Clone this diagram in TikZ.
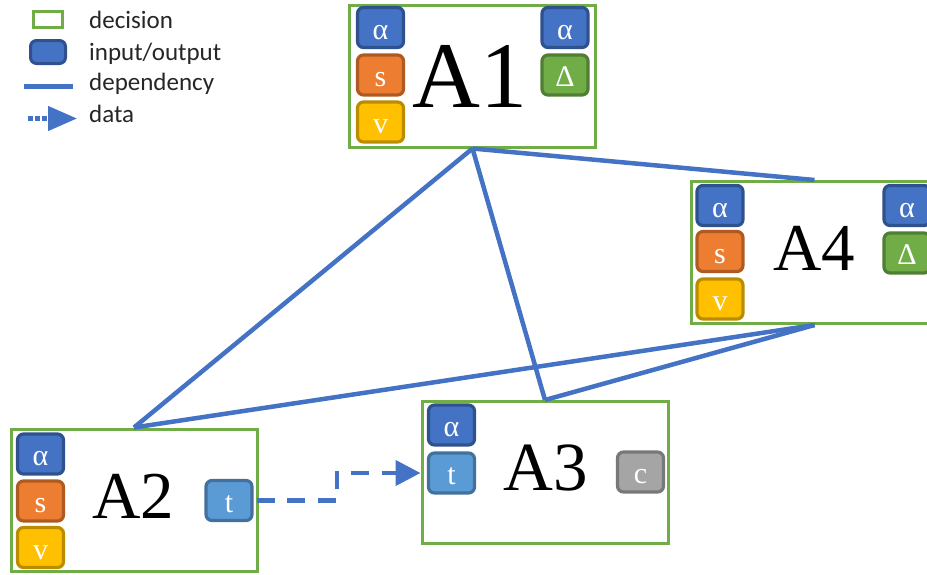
\documentclass[tikz,border=0pt]{standalone}
\usepackage{fontspec}
\setmainfont{Liberation Serif}
\newfontfamily\legendfont{Carlito}
\usetikzlibrary{arrows.meta}

\definecolor{decgreen}{HTML}{70AD47}
\definecolor{iofill}{HTML}{4472C4}
\definecolor{iodraw}{HTML}{2F528F}
\definecolor{orfill}{HTML}{ED7D31}
\definecolor{ordraw}{HTML}{AE5A21}
\definecolor{yefill}{HTML}{FFC000}
\definecolor{yedraw}{HTML}{BC8C00}
\definecolor{grfill}{HTML}{70AD47}
\definecolor{grdraw}{HTML}{507E32}
\definecolor{ltfill}{HTML}{5B9BD5}
\definecolor{ltdraw}{HTML}{41719C}
\definecolor{gyfill}{HTML}{A5A5A5}
\definecolor{gydraw}{HTML}{787878}
\definecolor{linkblue}{HTML}{4472C4}
\definecolor{legtext}{HTML}{262626}

\tikzset{
  decision/.style={draw=decgreen, line width=3pt, minimum width=246pt,
    minimum height=142pt, inner sep=0pt},
  chip/.style={rounded corners=6pt, line width=3.2pt, minimum width=46pt,
    minimum height=40pt, inner sep=0pt, text height=23pt, text depth=0pt,
    text=white, font=\fontsize{30}{30}\selectfont},
  bluechip/.style={chip, fill=iofill, draw=iodraw},
  orangechip/.style={chip, fill=orfill, draw=ordraw},
  yellowchip/.style={chip, fill=yefill, draw=yedraw},
  greenchip/.style={chip, fill=grfill, draw=grdraw},
  lightchip/.style={chip, fill=ltfill, draw=ltdraw},
  graychip/.style={chip, fill=gyfill, draw=gydraw},
  biglabel/.style={anchor=base, inner sep=0pt, font=\fontsize{#1}{#1}\selectfont},
  dep/.style={draw=linkblue, line width=4.5pt},
  dataflow/.style={draw=linkblue, line width=4.5pt,
    dash pattern=on 18pt off 12.5pt, dash phase=27.5pt,
    -{Triangle[length=25pt,width=25pt]}},
  legendtext/.style={anchor=base west, inner sep=0pt, text=legtext,
    font=\legendfont\fontsize{25}{25}\selectfont},
}

\begin{document}
\begin{tikzpicture}[x=1pt, y=-1pt]
  \clip (0,0) rectangle (927,574);

  % legend
  \node[draw=decgreen, line width=3pt, minimum width=29pt, minimum height=16pt,
        inner sep=0pt] (legdec) at (48,19.5) {};
  \node[fill=iofill, draw=iodraw, line width=3pt, rounded corners=6pt,
        minimum width=35pt, minimum height=23pt, inner sep=0pt] (legio) at (48,52) {};
  \coordinate (legdepA) at (24,86);
  \coordinate (legdepB) at (73,86);
  \draw[draw=linkblue, line width=5pt] (legdepA) -- (legdepB);
  \coordinate (legdataA) at (28,118.5);
  \coordinate (legdataB) at (77,118.5);
  \draw[draw=linkblue, line width=4.5pt, dash pattern=on 4.5pt off 2.5pt,
        -{Triangle[length=29pt,width=24pt]}] (legdataA) -- (legdataB);
  \node[legendtext] (legt1) at (89,28) {decision};
  \node[legendtext] (legt2) at (89,60) {input/output};
  \node[legendtext] (legt3) at (89,90) {dependency};
  \node[legendtext] (legt4) at (89,122) {data};

  % decision boxes
  \node[decision] (A1) at (472.5,76) {};
  \node[decision] (A4) at (814.5,252.5) {};
  \node[decision] (A2) at (134,500) {};
  \node[decision] (A3) at (545,472.5) {};

  % A1
  \node[bluechip]   (A1a)  at (380.5,27.5) {α};
  \node[orangechip] (A1s)  at (380.5,75)   {s};
  \node[yellowchip] (A1v)  at (380.5,122)  {v};
  \node[bluechip]   (A1ao) at (565,27.5)   {α};
  \node[greenchip]  (A1d)  at (565,75)     {Δ};
  \node[biglabel=94] (A1lbl) at (470,107) {A1};

  % A4
  \node[bluechip]   (A4a)  at (720,205.5)  {α};
  \node[orangechip] (A4s)  at (720,251.5)  {s};
  \node[yellowchip] (A4v)  at (720,299)    {v};
  \node[bluechip]   (A4ao) at (907,205.5)  {α};
  \node[greenchip]  (A4d)  at (907,253)    {Δ};
  \node[biglabel=67] (A4lbl) at (814,270) {A4};

  % A2
  \node[bluechip]   (A2a)  at (40.5,454)   {α};
  \node[orangechip] (A2s)  at (40.5,501)   {s};
  \node[yellowchip] (A2v)  at (40.5,547.5) {v};
  \node[lightchip]  (A2t)  at (229,500.5)  {t};
  \node[biglabel=67] (A2lbl) at (133,518) {A2};

  % A3
  \node[bluechip]   (A3a)  at (451.5,425)  {α};
  \node[lightchip]  (A3t)  at (451.5,473)  {t};
  \node[graychip]   (A3c)  at (640.5,472)  {c};
  \node[biglabel=69] (A3lbl) at (546,490) {A3};

  % dependencies
  \draw[dep] (A1.south) -- (A2.north);
  \draw[dep] (A1.south) -- (A3.north);
  \draw[dep] (A1.south) -- (A4.north);
  \draw[dep] (A4.south) -- (A2.north);
  \draw[dep] (A4.south) -- (A3.north);

  % data flow
  \coordinate (jog) at (337,0);
  \draw[dataflow] (A2t.east) -| (jog |- A3t.center) -- (A3.west |- A3t.center);
\end{tikzpicture}
\end{document}
